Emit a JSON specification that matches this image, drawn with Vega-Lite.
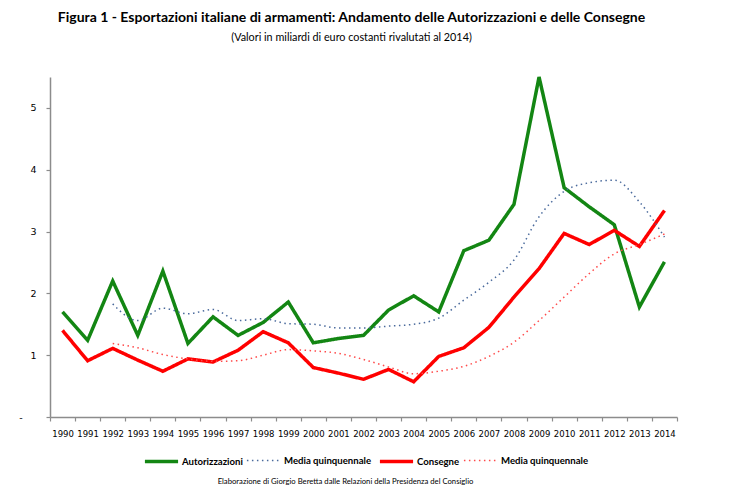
{
  "$schema": "https://vega.github.io/schema/vega-lite/v6.json",
  "autosize": {"type": "none"},
  "width": 627,
  "height": 340,
  "padding": {"left": 50, "top": 77, "right": 63, "bottom": 77},
  "background": "white",
  "title": {
    "text": "Figura 1 - Esportazioni italiane di armamenti: Andamento delle Autorizzazioni e delle Consegne",
    "subtitle": "(Valori in miliardi di euro costanti rivalutati al 2014)",
    "font": "Lato",
    "fontSize": 14,
    "fontWeight": "bold",
    "color": "#000000",
    "subtitleFont": "Lato",
    "subtitleFontSize": 10.8,
    "subtitleColor": "#000000",
    "subtitlePadding": 7,
    "anchor": "middle",
    "dx": -12,
    "offset": 27
  },
  "config": {
    "view": {"stroke": null},
    "axis": {"labelFont": "DejaVu Sans", "labelFontSize": 8.5, "labelColor": "#000000", "domainColor": "#8c8c8c", "tickColor": "#8c8c8c", "domainWidth": 1.5, "tickWidth": 1.2, "grid": false}
  },
  "data": {
    "values": [
      {"year": 1990, "series": "Autorizzazioni", "value": 1.70},
      {"year": 1991, "series": "Autorizzazioni", "value": 1.24},
      {"year": 1992, "series": "Autorizzazioni", "value": 2.20},
      {"year": 1993, "series": "Autorizzazioni", "value": 1.32},
      {"year": 1994, "series": "Autorizzazioni", "value": 2.36},
      {"year": 1995, "series": "Autorizzazioni", "value": 1.19},
      {"year": 1996, "series": "Autorizzazioni", "value": 1.62},
      {"year": 1997, "series": "Autorizzazioni", "value": 1.32},
      {"year": 1998, "series": "Autorizzazioni", "value": 1.53},
      {"year": 1999, "series": "Autorizzazioni", "value": 1.86},
      {"year": 2000, "series": "Autorizzazioni", "value": 1.20},
      {"year": 2001, "series": "Autorizzazioni", "value": 1.27},
      {"year": 2002, "series": "Autorizzazioni", "value": 1.32},
      {"year": 2003, "series": "Autorizzazioni", "value": 1.73},
      {"year": 2004, "series": "Autorizzazioni", "value": 1.96},
      {"year": 2005, "series": "Autorizzazioni", "value": 1.70},
      {"year": 2006, "series": "Autorizzazioni", "value": 2.69},
      {"year": 2007, "series": "Autorizzazioni", "value": 2.86},
      {"year": 2008, "series": "Autorizzazioni", "value": 3.44},
      {"year": 2009, "series": "Autorizzazioni", "value": 5.50},
      {"year": 2010, "series": "Autorizzazioni", "value": 3.71},
      {"year": 2011, "series": "Autorizzazioni", "value": 3.40},
      {"year": 2012, "series": "Autorizzazioni", "value": 3.11},
      {"year": 2013, "series": "Autorizzazioni", "value": 1.78},
      {"year": 2014, "series": "Autorizzazioni", "value": 2.51},
      {"year": 1990, "series": "Consegne", "value": 1.40},
      {"year": 1991, "series": "Consegne", "value": 0.91},
      {"year": 1992, "series": "Consegne", "value": 1.11},
      {"year": 1993, "series": "Consegne", "value": 0.92},
      {"year": 1994, "series": "Consegne", "value": 0.74},
      {"year": 1995, "series": "Consegne", "value": 0.94},
      {"year": 1996, "series": "Consegne", "value": 0.89},
      {"year": 1997, "series": "Consegne", "value": 1.08},
      {"year": 1998, "series": "Consegne", "value": 1.38},
      {"year": 1999, "series": "Consegne", "value": 1.20},
      {"year": 2000, "series": "Consegne", "value": 0.80},
      {"year": 2001, "series": "Consegne", "value": 0.71},
      {"year": 2002, "series": "Consegne", "value": 0.61},
      {"year": 2003, "series": "Consegne", "value": 0.77},
      {"year": 2004, "series": "Consegne", "value": 0.57},
      {"year": 2005, "series": "Consegne", "value": 0.98},
      {"year": 2006, "series": "Consegne", "value": 1.12},
      {"year": 2007, "series": "Consegne", "value": 1.45},
      {"year": 2008, "series": "Consegne", "value": 1.94},
      {"year": 2009, "series": "Consegne", "value": 2.40},
      {"year": 2010, "series": "Consegne", "value": 2.97},
      {"year": 2011, "series": "Consegne", "value": 2.79},
      {"year": 2012, "series": "Consegne", "value": 3.02},
      {"year": 2013, "series": "Consegne", "value": 2.76},
      {"year": 2014, "series": "Consegne", "value": 3.34},
      {"year": 1992, "series": "Media quinquennale A", "value": 1.83},
      {"year": 1993, "series": "Media quinquennale A", "value": 1.56},
      {"year": 1994, "series": "Media quinquennale A", "value": 1.76},
      {"year": 1995, "series": "Media quinquennale A", "value": 1.67},
      {"year": 1996, "series": "Media quinquennale A", "value": 1.74},
      {"year": 1997, "series": "Media quinquennale A", "value": 1.56},
      {"year": 1998, "series": "Media quinquennale A", "value": 1.59},
      {"year": 1999, "series": "Media quinquennale A", "value": 1.51},
      {"year": 2000, "series": "Media quinquennale A", "value": 1.50},
      {"year": 2001, "series": "Media quinquennale A", "value": 1.44},
      {"year": 2002, "series": "Media quinquennale A", "value": 1.44},
      {"year": 2003, "series": "Media quinquennale A", "value": 1.47},
      {"year": 2004, "series": "Media quinquennale A", "value": 1.50},
      {"year": 2005, "series": "Media quinquennale A", "value": 1.60},
      {"year": 2006, "series": "Media quinquennale A", "value": 1.89},
      {"year": 2007, "series": "Media quinquennale A", "value": 2.18},
      {"year": 2008, "series": "Media quinquennale A", "value": 2.54},
      {"year": 2009, "series": "Media quinquennale A", "value": 3.24},
      {"year": 2010, "series": "Media quinquennale A", "value": 3.65},
      {"year": 2011, "series": "Media quinquennale A", "value": 3.79},
      {"year": 2012, "series": "Media quinquennale A", "value": 3.83},
      {"year": 2013, "series": "Media quinquennale A", "value": 3.48},
      {"year": 2014, "series": "Media quinquennale A", "value": 2.91},
      {"year": 1992, "series": "Media quinquennale C", "value": 1.19},
      {"year": 1993, "series": "Media quinquennale C", "value": 1.12},
      {"year": 1994, "series": "Media quinquennale C", "value": 1.01},
      {"year": 1995, "series": "Media quinquennale C", "value": 0.94},
      {"year": 1996, "series": "Media quinquennale C", "value": 0.90},
      {"year": 1997, "series": "Media quinquennale C", "value": 0.91},
      {"year": 1998, "series": "Media quinquennale C", "value": 1.00},
      {"year": 1999, "series": "Media quinquennale C", "value": 1.09},
      {"year": 2000, "series": "Media quinquennale C", "value": 1.07},
      {"year": 2001, "series": "Media quinquennale C", "value": 1.03},
      {"year": 2002, "series": "Media quinquennale C", "value": 0.93},
      {"year": 2003, "series": "Media quinquennale C", "value": 0.81},
      {"year": 2004, "series": "Media quinquennale C", "value": 0.70},
      {"year": 2005, "series": "Media quinquennale C", "value": 0.74},
      {"year": 2006, "series": "Media quinquennale C", "value": 0.82},
      {"year": 2007, "series": "Media quinquennale C", "value": 0.98},
      {"year": 2008, "series": "Media quinquennale C", "value": 1.21},
      {"year": 2009, "series": "Media quinquennale C", "value": 1.56},
      {"year": 2010, "series": "Media quinquennale C", "value": 1.94},
      {"year": 2011, "series": "Media quinquennale C", "value": 2.32},
      {"year": 2012, "series": "Media quinquennale C", "value": 2.64},
      {"year": 2013, "series": "Media quinquennale C", "value": 2.79},
      {"year": 2014, "series": "Media quinquennale C", "value": 2.96}
    ]
  },
  "encoding": {
    "x": {
      "field": "year",
      "type": "ordinal",
      "bandPosition": 0.5,
      "scale": {"type": "band", "paddingInner": 0, "paddingOuter": 0},
      "axis": {
        "labelAngle": 0,
        "tickBand": "extent",
        "tickSize": 4,
        "labelPadding": 8,
        "labelBaseline": "top",
        "title": "Elaborazione di Giorgio Beretta dalle Relazioni della Presidenza del Consiglio",
        "titleFont": "Lato",
        "titleFontSize": 7.7,
        "titleFontWeight": "normal",
        "titleColor": "#000000",
        "titleAnchor": null,
        "titleAlign": "center",
        "titleBaseline": "middle",
        "titleX": 295,
        "titleY": 64
      }
    },
    "y": {
      "field": "value",
      "type": "quantitative",
      "scale": {"domain": [0, 5.5], "nice": false},
      "axis": {
        "title": null,
        "values": [0, 1, 2, 3, 4, 5],
        "tickSize": 4,
        "labelPadding": 10,
        "labelFontSize": 9.5,
        "labelExpr": "datum.value == 0 ? '-\u2800\u2800' : datum.label"
      }
    },
    "color": {
      "field": "series",
      "type": "nominal",
      "scale": {
        "domain": ["Autorizzazioni", "Media quinquennale A", "Consegne", "Media quinquennale C"],
        "range": ["#138613", "#4a6a9c", "#ff0000", "#ff4a4a"]
      },
      "legend": {
        "orient": "none",
        "legendX": 93,
        "legendY": 366,
        "direction": "horizontal",
        "columns": 4,
        "title": null,
        "symbolType": "stroke",
        "symbolSize": 1100,
        "labelFont": "Lato",
        "labelFontSize": 9.6,
        "labelFontWeight": "bold",
        "labelColor": "#000000",
        "labelOffset": 2,
        "columnPadding": 0,
        "gridAlign": "none",
        "labelExpr": "indexof(datum.label, 'Media') == 0 ? 'Media quinquennale' : datum.label"
      }
    },
    "strokeDash": {
      "field": "series",
      "type": "nominal",
      "scale": {
        "domain": ["Autorizzazioni", "Media quinquennale A", "Consegne", "Media quinquennale C"],
        "range": [[1, 0], [1.5, 3.5], [1, 0], [1.5, 3.5]]
      }
    },
    "strokeWidth": {
      "field": "series",
      "type": "nominal",
      "scale": {
        "type": "ordinal",
        "domain": ["Autorizzazioni", "Media quinquennale A", "Consegne", "Media quinquennale C"],
        "range": [3.5, 1.5, 3.5, 1.5]
      }
    }
  },
  "layer": [
    {
      "transform": [{"filter": "indexof(datum.series, 'Media') != 0"}],
      "mark": {"type": "line", "strokeJoin": "miter"}
    },
    {
      "transform": [{"filter": "indexof(datum.series, 'Media') == 0"}],
      "mark": {"type": "line", "interpolate": "monotone"}
    }
  ]
}
